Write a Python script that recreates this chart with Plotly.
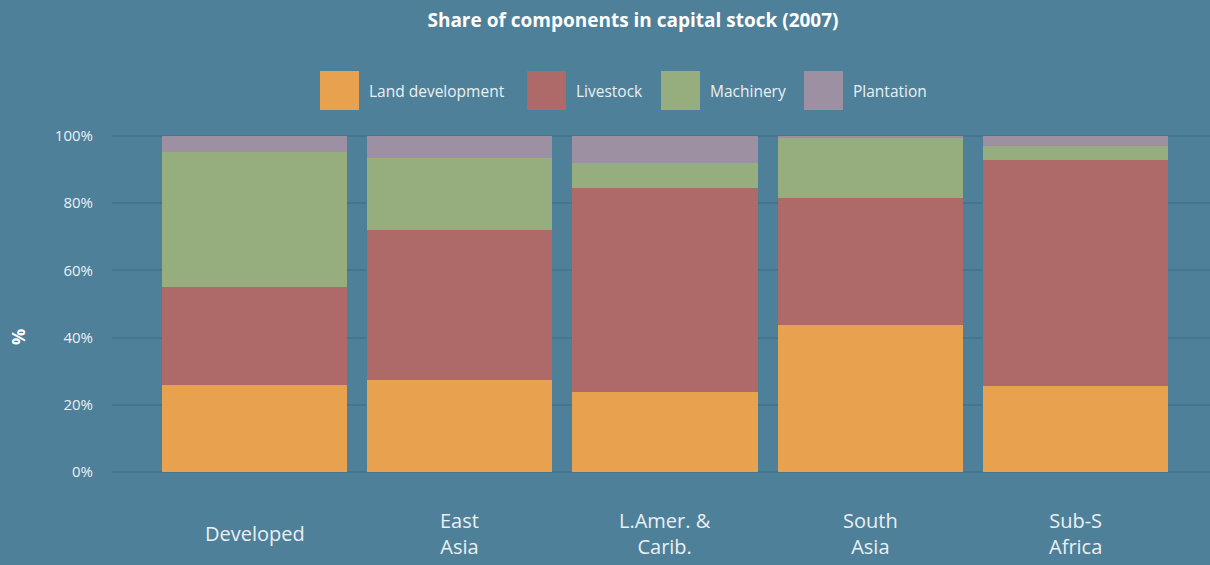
import plotly.graph_objects as go

categories = ["Developed", "East<br>Asia", "L.Amer. &<br>Carib.", "South<br>Asia", "Sub-S<br>Africa"]
series_names = ["Land development", "Livestock", "Machinery", "Plantation"]
land = [25.8, 27.3, 23.7, 43.7, 25.5]
livestock = [29.2, 44.7, 60.8, 37.8, 67.3]
machinery = [40.2, 21.4, 7.5, 18.2, 4.2]
plantation = [4.8, 6.6, 8.0, 0.3, 3.0]
colors = ["#e8a24f", "#ae6a68", "#96ad7d", "#9e90a3"]
y_ticks = [0, 20, 40, 60, 80, 100]
y_ticklabels = [f"{v}%" for v in y_ticks]

W, H = 1210, 565
ML, MR, MT, MB = 112, 0, 134, 91
BG = "#4e8099"
TXT = "#eaf0f4"
FONT = "Open Sans"

fig = go.Figure()
xpos = list(range(len(categories)))
for name, vals, col in zip(series_names, [land, livestock, machinery, plantation], colors):
    fig.add_trace(go.Bar(x=xpos, y=vals, name=name,
                         marker=dict(color=col, line=dict(width=0)),
                         showlegend=False))

pw = W - ML - MR
ph = H - MT - MB

def py(p):
    return (H - MB - p) / ph

def px(p):
    return (p - ML) / pw

# custom legend with large swatches
legend_left_px = [320, 527, 661, 804]
sw = 39
shapes = []
annotations = []
for name, col, lx in zip(series_names, colors, legend_left_px):
    shapes.append(dict(type="rect", xref="paper", yref="paper",
                       x0=px(lx), x1=px(lx + sw), y0=py(110), y1=py(71),
                       fillcolor=col, line=dict(width=0), layer="above"))
    annotations.append(dict(xref="paper", yref="paper",
                            x=px(lx + sw + 8), y=py(91),
                            xanchor="left", yanchor="middle", showarrow=False,
                            text=name, font=dict(family=FONT, size=15.5, color=TXT)))

# category labels below the axis
for xi, cat in zip(xpos, categories):
    annotations.append(dict(xref="x", yref="paper", x=xi, y=py(533),
                            xanchor="center", yanchor="middle", showarrow=False,
                            text=cat, font=dict(family=FONT, size=20, color=TXT)))

# y-axis title
annotations.append(dict(xref="paper", yref="paper", x=px(18), y=py(337),
                        xanchor="center", yanchor="middle", showarrow=False,
                        textangle=-90, text="<b>%</b>",
                        font=dict(family=FONT, size=18, color="#ffffff")))

fig.update_layout(
    width=W, height=H,
    margin=dict(l=ML, r=MR, t=MT, b=MB),
    paper_bgcolor=BG, plot_bgcolor=BG,
    barmode="stack", bargap=20 / 205,
    font=dict(family=FONT, color=TXT),
    title=dict(text="<b>Share of components in capital stock (2007)</b>",
               x=633 / W, xref="container", xanchor="center",
               y=1 - 20 / H, yref="container", yanchor="middle",
               font=dict(family=FONT, size=19, color="#ffffff")),
    xaxis=dict(tickmode="array", tickvals=xpos, showticklabels=False,
               range=[-0.695, 4.656], showgrid=False, zeroline=False, showline=False,
               ticks="", fixedrange=True),
    yaxis=dict(range=[-0.6, 100.6], tickmode="array", tickvals=y_ticks, ticktext=y_ticklabels,
               showgrid=True, gridcolor="#46758e", gridwidth=2,
               zeroline=False, showline=False, ticks="", ticklabelstandoff=18,
               tickfont=dict(family=FONT, size=15, color=TXT),
               fixedrange=True),
    shapes=shapes, annotations=annotations,
)

fig.write_html("out.html", config={"displayModeBar": False},
               post_script="document.body.style.margin='0';document.body.style.overflow='hidden';")
